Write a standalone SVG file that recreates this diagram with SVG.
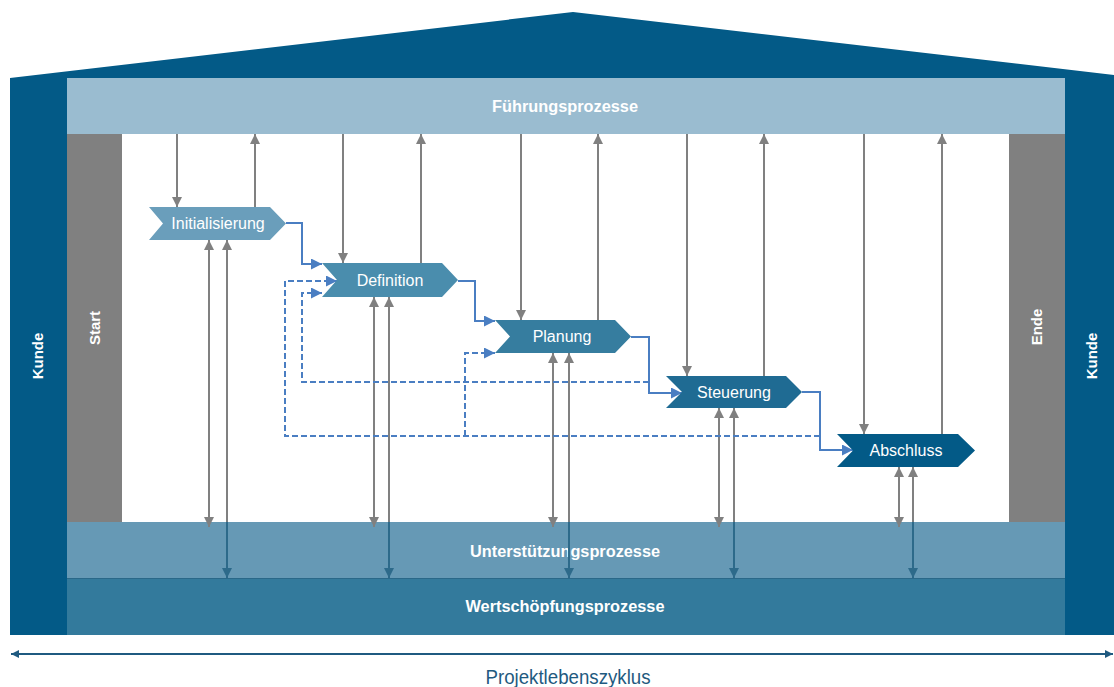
<svg xmlns="http://www.w3.org/2000/svg" width="1114" height="687" viewBox="0 0 1114 687">
  <style>
    .band-label { font-family: "Liberation Sans", Arial, sans-serif; font-size: 16px; font-weight: bold; fill: #ffffff; text-anchor: middle; }
    .side-label { font-family: "Liberation Sans", Arial, sans-serif; font-size: 15px; font-weight: bold; fill: #ffffff; text-anchor: middle; }
    .phase-label { font-family: "Liberation Sans", Arial, sans-serif; font-size: 16px; fill: #ffffff; text-anchor: middle; }
    .grey { stroke: #808080; stroke-width: 2; fill: none; }
    .dark { stroke: #2D6A8A; stroke-width: 2; fill: none; }
    .flow { stroke: #4A7EC2; stroke-width: 2; fill: none; }
    .loop { stroke: #4A7EC2; stroke-width: 2; fill: none; stroke-dasharray: 6 3; }
  </style>
  <defs>
    <marker id="ahGrey" viewBox="0 0 10 10" refX="10" refY="5" markerWidth="11" markerHeight="10" markerUnits="userSpaceOnUse" orient="auto-start-reverse">
      <path d="M0,0 L10,5 L0,10 z" fill="#808080"/>
    </marker>
    <marker id="ahDark" viewBox="0 0 10 10" refX="10" refY="5" markerWidth="11" markerHeight="10" markerUnits="userSpaceOnUse" orient="auto-start-reverse">
      <path d="M0,0 L10,5 L0,10 z" fill="#2D6A8A"/>
    </marker>
    <marker id="ahBlue" viewBox="0 0 10 10" refX="10" refY="5" markerWidth="11" markerHeight="11" markerUnits="userSpaceOnUse" orient="auto-start-reverse">
      <path d="M0,0 L10,5 L0,10 z" fill="#4A7EC2"/>
    </marker>
    <marker id="ahLife" viewBox="0 0 10 10" refX="10" refY="5" markerWidth="8" markerHeight="9" markerUnits="userSpaceOnUse" orient="auto-start-reverse">
      <path d="M0,0 L10,5 L0,10 z" fill="#1F5A80"/>
    </marker>
  </defs>

  <!-- House frame: roof and customer walls -->
  <g id="house">
    <polygon points="10,78 573,12 1114,75 1114,635 10,635" fill="#035A87"/>
    <rect x="67" y="134" width="998" height="388" fill="#ffffff"/>
  </g>

  <g id="kunde-left">
    <text class="side-label" transform="translate(43,356) rotate(-90)">Kunde</text>
  </g>
  <g id="kunde-right">
    <text class="side-label" transform="translate(1097,356) rotate(-90)">Kunde</text>
  </g>

  <g id="fuehrungsprozesse">
    <rect x="67" y="78" width="998" height="56" fill="#9ABCD0"/>
    <text class="band-label" x="565" y="112" textLength="146" lengthAdjust="spacingAndGlyphs">Führungsprozesse</text>
  </g>

  <g id="start">
    <rect x="67" y="134" width="55" height="388" fill="#808080"/>
    <text class="side-label" transform="translate(100,328) rotate(-90)">Start</text>
  </g>
  <g id="ende">
    <rect x="1009" y="134" width="56" height="388" fill="#808080"/>
    <text class="side-label" transform="translate(1042,327) rotate(-90)">Ende</text>
  </g>

  <g id="unterstuetzungsprozesse">
    <rect x="67" y="522" width="998" height="56" fill="#6699B5"/>
    <text class="band-label" x="565" y="557" textLength="190" lengthAdjust="spacingAndGlyphs">Unterstützungsprozesse</text>
  </g>
  <g id="wertschoepfungsprozesse">
    <rect x="67" y="578" width="998" height="57" fill="#337A9C"/>
    <line x1="67" y1="578.5" x2="1065" y2="578.5" stroke="#2A6888" stroke-width="1"/>
    <text class="band-label" x="565" y="612" textLength="199" lengthAdjust="spacingAndGlyphs">Wertschöpfungsprozesse</text>
  </g>

  <!-- Connectors -->
  <g id="connectors">
    <!-- management band to and from each phase -->
    <line class="grey" x1="177" y1="134" x2="177" y2="207" marker-end="url(#ahGrey)"/>
    <line class="grey" x1="255" y1="207" x2="255" y2="134" marker-end="url(#ahGrey)"/>
    <line class="grey" x1="343" y1="134" x2="343" y2="263" marker-end="url(#ahGrey)"/>
    <line class="grey" x1="421" y1="263" x2="421" y2="134" marker-end="url(#ahGrey)"/>
    <line class="grey" x1="521" y1="134" x2="521" y2="320" marker-end="url(#ahGrey)"/>
    <line class="grey" x1="598" y1="320" x2="598" y2="134" marker-end="url(#ahGrey)"/>
    <line class="grey" x1="687" y1="134" x2="687" y2="376" marker-end="url(#ahGrey)"/>
    <line class="grey" x1="764" y1="376" x2="764" y2="134" marker-end="url(#ahGrey)"/>
    <line class="grey" x1="864" y1="134" x2="864" y2="434" marker-end="url(#ahGrey)"/>
    <line class="grey" x1="942" y1="434" x2="942" y2="134" marker-end="url(#ahGrey)"/>

    <!-- support band exchange -->
    <line class="grey" x1="209" y1="240" x2="209" y2="527" marker-start="url(#ahGrey)" marker-end="url(#ahGrey)"/>
    <line class="grey" x1="374" y1="297" x2="374" y2="527" marker-start="url(#ahGrey)" marker-end="url(#ahGrey)"/>
    <line class="grey" x1="553" y1="353" x2="553" y2="527" marker-start="url(#ahGrey)" marker-end="url(#ahGrey)"/>
    <line class="grey" x1="719" y1="408" x2="719" y2="527" marker-start="url(#ahGrey)" marker-end="url(#ahGrey)"/>
    <line class="grey" x1="899" y1="467" x2="899" y2="527" marker-start="url(#ahGrey)" marker-end="url(#ahGrey)"/>

    <!-- value chain exchange -->
    <line class="grey" x1="227" y1="240" x2="227" y2="522" marker-start="url(#ahGrey)"/>
    <line class="dark" x1="227" y1="522" x2="227" y2="578" marker-end="url(#ahDark)"/>
    <line class="grey" x1="389" y1="297" x2="389" y2="522" marker-start="url(#ahGrey)"/>
    <line class="dark" x1="389" y1="522" x2="389" y2="578" marker-end="url(#ahDark)"/>
    <line class="grey" x1="569" y1="353" x2="569" y2="522" marker-start="url(#ahGrey)"/>
    <line class="dark" x1="569" y1="522" x2="569" y2="578" marker-end="url(#ahDark)"/>
    <line class="grey" x1="734" y1="408" x2="734" y2="522" marker-start="url(#ahGrey)"/>
    <line class="dark" x1="734" y1="522" x2="734" y2="578" marker-end="url(#ahDark)"/>
    <line class="grey" x1="913" y1="467" x2="913" y2="522" marker-start="url(#ahGrey)"/>
    <line class="dark" x1="913" y1="522" x2="913" y2="578" marker-end="url(#ahDark)"/>

    <!-- phase sequence -->
    <polyline class="flow" points="286,223 302,223 302,264 322,264" marker-end="url(#ahBlue)"/>
    <polyline class="flow" points="458,281 475,281 475,321 495,321" marker-end="url(#ahBlue)"/>
    <polyline class="flow" points="631,337 649,337 649,393 682,393" marker-end="url(#ahBlue)"/>
    <polyline class="flow" points="802,392 820,392 820,450 853,450" marker-end="url(#ahBlue)"/>

    <!-- feedback loops -->
    <polyline class="loop" points="820,436 285,436 285,281 337,281" marker-end="url(#ahBlue)"/>
    <polyline class="loop" points="649,382 302,382 302,293 322,293" marker-end="url(#ahBlue)"/>
    <polyline class="loop" points="465,436 465,353 495,353" marker-end="url(#ahBlue)"/>
  </g>

  <!-- Phases -->
  <g id="initialisierung">
    <polygon points="149,207 270,207 286,223.5 270,240 149,240 163,223.5" fill="#6A9EBB"/>
    <text class="phase-label" x="218" y="229">Initialisierung</text>
  </g>
  <g id="definition">
    <polygon points="322,263 442,263 458,280 442,297 322,297 337,280" fill="#4A8DAD"/>
    <text class="phase-label" x="390" y="286">Definition</text>
  </g>
  <g id="planung">
    <polygon points="495,320 615,320 631,336.5 615,353 495,353 510,336.5" fill="#367D9F"/>
    <text class="phase-label" x="562" y="342">Planung</text>
  </g>
  <g id="steuerung">
    <polygon points="666,376 786,376 802,392 786,408 666,408 682,392" fill="#1F6B93"/>
    <text class="phase-label" x="734" y="398">Steuerung</text>
  </g>
  <g id="abschluss">
    <polygon points="837,434 958,434 975,450.5 958,467 837,467 853,450.5" fill="#035A87"/>
    <text class="phase-label" x="906" y="456">Abschluss</text>
  </g>

  <!-- Project life cycle axis -->
  <g id="projektlebenszyklus">
    <line x1="11" y1="654" x2="1113" y2="654" stroke="#1F5A80" stroke-width="2" marker-start="url(#ahLife)" marker-end="url(#ahLife)"/>
    <text x="568" y="684" font-family="'Liberation Sans', Arial, sans-serif" font-size="20" fill="#1F5A80" text-anchor="middle" textLength="165" lengthAdjust="spacingAndGlyphs">Projektlebenszyklus</text>
  </g>
</svg>
